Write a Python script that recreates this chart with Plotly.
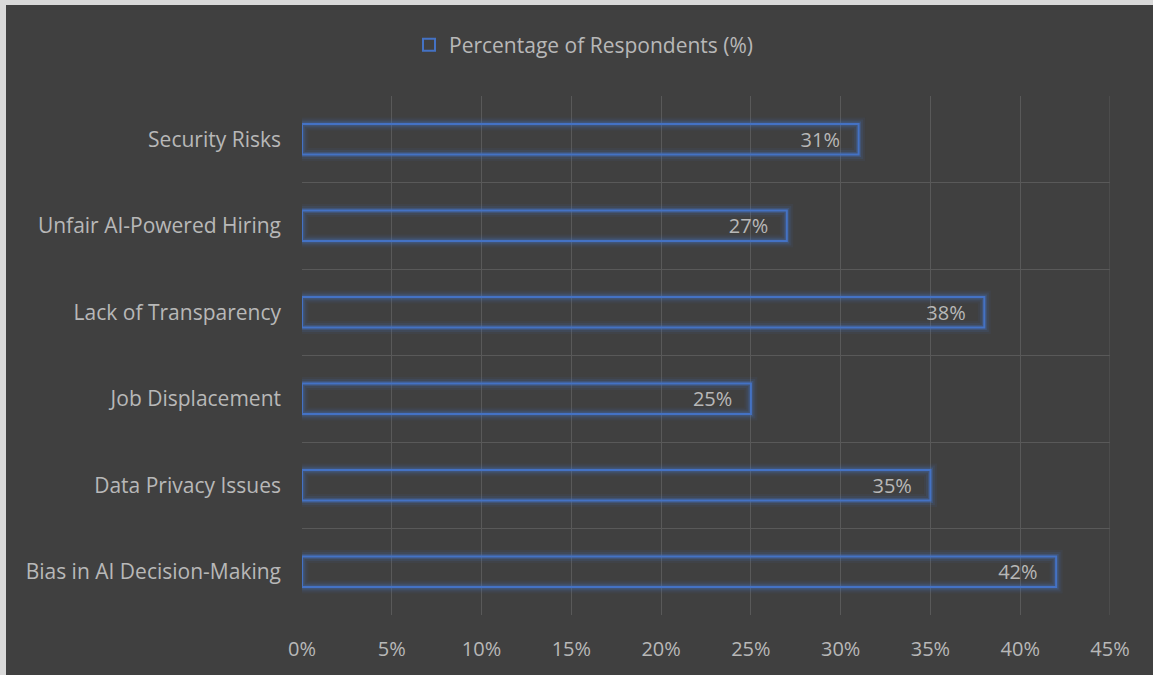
import plotly.graph_objects as go

categories = ["Bias in AI Decision-Making", "Data Privacy Issues", "Job Displacement",
              "Lack of Transparency", "Unfair AI-Powered Hiring", "Security Risks"]
values = [42, 35, 25, 38, 27, 31]
series_name = "Percentage of Respondents (%)"
x_ticks = [0, 5, 10, 15, 20, 25, 30, 35, 40, 45]
x_tick_labels = [f"{v}%" for v in x_ticks]

BG = "#404040"
BLUE = "#4472C4"
TXT = "#B8B8B8"
GRID = "#595959"
FONT = "Open Sans"

OFF_X, OFF_Y = 6, 5          # light frame at the left/top of the page
W, H = 1153 - OFF_X, 675 - OFF_Y
L, R, T, B = 302 - OFF_X, 43, 96 - OFF_Y, 60
PW, PH = W - L - R, H - T - B


def px_y(p):
    return (H - B - (p - OFF_Y)) / PH


def px_x(p):
    return ((p - OFF_X) - L) / PW


PAD = "\u00a0\u00a0\u00a0"

fig = go.Figure()
# soft glow layers behind the outline
for w, a in [(13, 0.07), (9, 0.13), (5, 0.28)]:
    fig.add_trace(go.Bar(
        y=categories, x=values, orientation="h",
        marker=dict(color="rgba(0,0,0,0)", line=dict(color=f"rgba(68,114,196,{a})", width=w)),
        showlegend=False, hoverinfo="skip",
    ))
fig.add_trace(go.Bar(
    y=categories, x=values, orientation="h", name=series_name,
    marker=dict(color="rgba(64,64,64,0)", line=dict(color=BLUE, width=2)),
    text=[f"{v}%{PAD}" for v in values], textposition="inside", insidetextanchor="end",
    constraintext="none",
    textfont=dict(color=TXT, size=20, family=FONT),
))

fig.update_layout(
    width=W, height=H,
    paper_bgcolor=BG, plot_bgcolor=BG,
    margin=dict(l=L, r=R, t=T, b=B),
    barmode="overlay", bargap=0.65,
    font=dict(family=FONT, color=TXT, size=20),
    legend=dict(orientation="h", x=px_x(584), xanchor="center", y=px_y(45), yanchor="middle",
                font=dict(size=21, color=TXT, family=FONT), bgcolor="rgba(0,0,0,0)"),
    xaxis=dict(range=[0, 45], tickvals=x_ticks, ticktext=x_tick_labels,
               showgrid=True, gridcolor=GRID, gridwidth=1, zeroline=False,
               showline=False, ticks="", ticklabelstandoff=20,
               tickfont=dict(size=20, color=TXT, family=FONT)),
    yaxis=dict(type="category", categoryorder="array", categoryarray=categories,
               tickson="boundaries", showgrid=True, gridcolor=GRID, gridwidth=1,
               showline=False, ticks="", ticklabelstandoff=20,
               tickfont=dict(size=21, color=TXT, family=FONT)),
)

fig.add_shape(type="line", xref="x", yref="paper", x0=45, x1=45, y0=0, y1=1,
              line=dict(color=GRID, width=1))

post = ("document.body.style.margin='%dpx 0 0 %dpx';"
        "document.body.style.background='#D9D9D9';"
        "document.body.style.overflow='hidden';"
        "document.documentElement.style.overflow='hidden';") % (OFF_Y, OFF_X)
fig.write_html("out.html", post_script=post)
